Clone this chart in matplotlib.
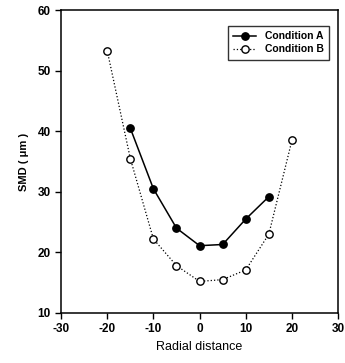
import numpy as np
from matplotlib import pyplot as plt

# data
x_a = [-15, -10, -5, 0, 5, 10, 15]
smd_a = [40.5, 30.5, 24.0, 21.1, 21.3, 25.5, 29.2]

x_b = [-20, -15, -10, -5, 0, 5, 10, 15, 20]
smd_b = [53.3, 35.5, 22.2, 17.8, 15.2, 15.5, 17.1, 23.0, 38.5]

plt.rcParams['font.family'] = ['Liberation Sans', 'DejaVu Sans']
plt.rcParams['axes.unicode_minus'] = False

fig = plt.figure(figsize=(3.45, 3.63), dpi=100)
ax = fig.add_axes([0.177, 0.138, 0.803, 0.834])

ax.plot(x_a, smd_a, color='black', linestyle='-', linewidth=1.1,
        marker='o', markersize=5.3, markerfacecolor='black',
        label='Condition A')
ax.plot(x_b, smd_b, color='black', linestyle=':', linewidth=0.9,
        marker='o', markersize=5.3, markerfacecolor='white',
        label='Condition B')

ax.set_xlim(-30, 30)
ax.set_ylim(10, 60)
ax.set_xticks(np.arange(-30, 31, 10))
ax.set_yticks(np.arange(10, 61, 10))
ax.tick_params(direction='out', length=4, width=1, labelsize=8.5)
for lbl in ax.get_xticklabels() + ax.get_yticklabels():
    lbl.set_fontweight('bold')
for s in ax.spines.values():
    s.set_linewidth(1.1)

ax.set_xlabel('Radial distance', fontsize=9, labelpad=4)
ax.set_ylabel('SMD ( \u03bcm )', fontsize=8, fontweight='bold', labelpad=6)

leg = ax.legend(loc='upper right', fontsize=7.5, frameon=True, fancybox=False,
                edgecolor='black', handlelength=2.2, borderpad=0.5,
                labelspacing=0.3, bbox_to_anchor=(0.985, 0.965))
leg.get_frame().set_linewidth(1.0)
for t in leg.get_texts():
    t.set_fontweight('bold')

fig.savefig('out.png', dpi=100)
